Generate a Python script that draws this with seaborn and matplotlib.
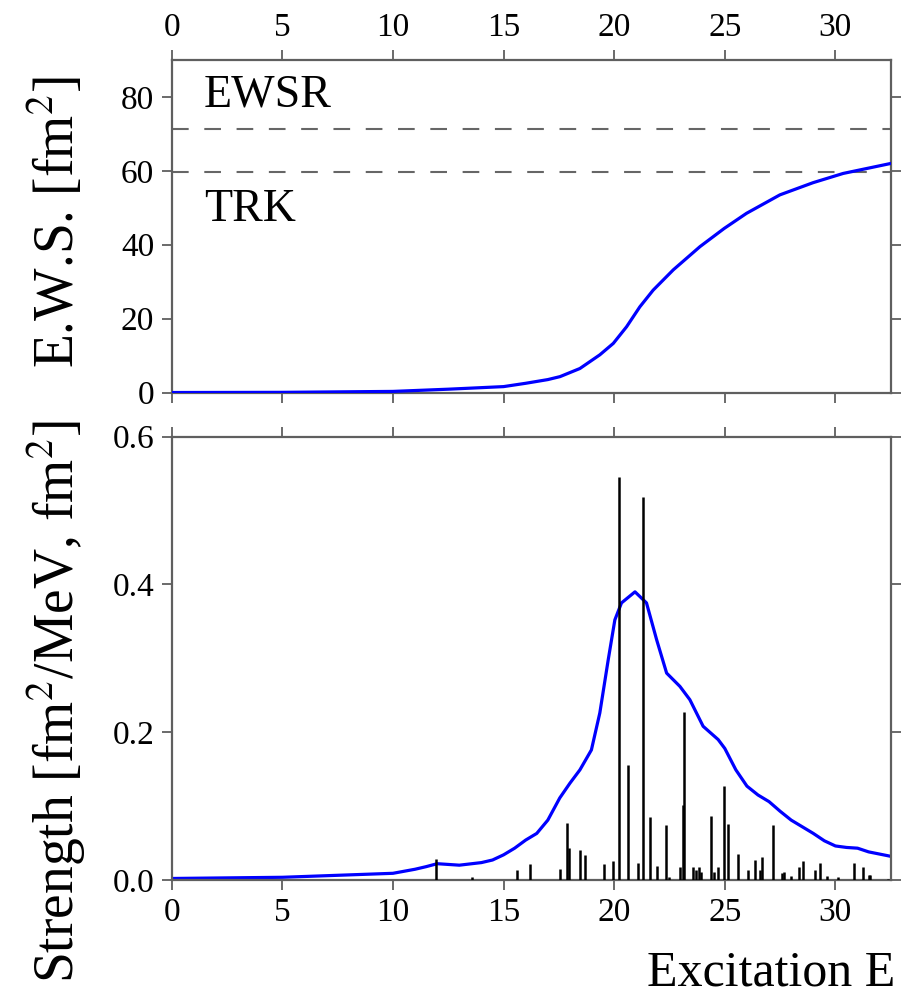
import numpy as np
import pandas as pd
import matplotlib
matplotlib.use("Agg")
import matplotlib.pyplot as plt
import seaborn as sns

# ---------------- data ----------------
# cumulative energy-weighted sum (top panel)
ews_x = [0, 5, 10, 12.5, 15, 16, 17, 17.55, 18.45, 19.35, 19.96, 20.56, 21.16, 21.76,
         22.67, 23.88, 24.97, 25.98, 27.49, 28.99, 30.35, 32.5]
ews_y = [0.0, 0.05, 0.3, 0.9, 1.6, 2.5, 3.5, 4.3, 6.5, 10.2, 13.3, 17.8, 23.2, 27.7,
         33.2, 39.5, 44.4, 48.5, 53.5, 56.8, 59.3, 62.0]
ewsr_value = 71.3
trk_value = 59.6

# smoothed strength function (bottom panel)
sm_x = [0, 5, 10, 11, 11.5, 12, 13, 14, 14.5, 15, 15.5, 16, 16.5, 17, 17.54, 18.0,
        18.45, 18.97, 19.35, 19.73, 20.03, 20.33, 20.94, 21.46, 21.92, 22.37, 22.97,
        23.42, 24.02, 24.7, 25.0, 25.5, 26, 26.5, 27, 27.5, 28, 28.5, 29, 29.5, 30,
        30.5, 31, 31.5, 32, 32.5]
sm_y = [0.002, 0.0036, 0.009, 0.0145, 0.018, 0.022, 0.02, 0.0235, 0.027, 0.034,
        0.043, 0.054, 0.063, 0.081, 0.111, 0.131, 0.149, 0.176, 0.226, 0.298, 0.352,
        0.375, 0.390, 0.375, 0.325, 0.280, 0.262, 0.244, 0.208, 0.190, 0.178, 0.149,
        0.127, 0.115, 0.106, 0.093, 0.081, 0.072, 0.063, 0.053, 0.046, 0.044, 0.043,
        0.038, 0.035, 0.032]

# discrete transition strengths (sticks)
st_x = [11.94, 13.56, 15.59, 16.18, 17.55, 17.85, 17.97, 18.46, 18.66, 19.55, 19.96,
        20.21, 20.64, 21.07, 21.32, 21.60, 21.92, 22.35, 22.49, 22.98, 23.11, 23.15,
        23.54, 23.69, 23.84, 23.92, 24.39, 24.52, 24.69, 24.97, 25.16, 25.61, 26.03,
        26.35, 26.60, 26.67, 27.19, 27.57, 27.68, 28.00, 28.36, 28.53, 29.06, 29.32,
        29.60, 30.13, 30.83, 31.24, 31.51, 31.58, 32.37]
st_y = [0.028, 0.004, 0.0135, 0.022, 0.0145, 0.077, 0.043, 0.040, 0.034, 0.022, 0.026,
        0.546, 0.156, 0.0235, 0.518, 0.085, 0.019, 0.0746, 0.0045, 0.018, 0.102, 0.227,
        0.017, 0.0135, 0.017, 0.011, 0.087, 0.011, 0.017, 0.127, 0.076, 0.035, 0.0135,
        0.027, 0.0135, 0.031, 0.0746, 0.010, 0.011, 0.005, 0.018, 0.025, 0.0135, 0.0235,
        0.005, 0.0035, 0.0226, 0.018, 0.007, 0.007, 0.001]

x_ticks = [0, 5, 10, 15, 20, 25, 30]
top_yticks = [0, 20, 40, 60, 80]
bot_yticks = [0.0, 0.2, 0.4, 0.6]

# ---------------- style ----------------
sns.set_style("ticks")
plt.rcParams["font.family"] = ["Liberation Serif", "DejaVu Serif"]
plt.rcParams["mathtext.fontset"] = "stix"
plt.rcParams["text.color"] = "black"
plt.rcParams["xtick.labelcolor"] = "black"
plt.rcParams["ytick.labelcolor"] = "black"

SPINE = "#5f5f5f"
BLUE = "#0000ff"

fig = plt.figure(figsize=(9.01, 9.97), dpi=100)
ax1 = fig.add_axes([0.1906, 0.6063, 0.798, 0.3335])
ax2 = fig.add_axes([0.1906, 0.1174, 0.798, 0.4446])

ews_df = pd.DataFrame({"E": ews_x, "S": ews_y})
sm_df = pd.DataFrame({"E": sm_x, "S": sm_y})

sns.lineplot(data=ews_df, x="E", y="S", ax=ax1, color=BLUE, lw=2.3, zorder=3)
ax1.axhline(ewsr_value, color="#666666", lw=1.5, ls=(0, (8, 7.5)), zorder=2)
ax1.axhline(trk_value, color="#666666", lw=1.5, ls=(0, (8, 7.5)), zorder=2)
ax1.text(1.45, 80.5, "EWSR", fontsize=33, va="center", ha="left", color="black")
ax1.text(1.45, 49.5, "TRK", fontsize=33, va="center", ha="left", color="black")

sns.lineplot(data=sm_df, x="E", y="S", ax=ax2, color=BLUE, lw=2.3, zorder=2)
ax2.vlines(st_x, 0, st_y, color="black", lw=1.8, zorder=3)

for ax in (ax1, ax2):
    ax.set_xlim(0, 32.5)
    ax.set_xticks(x_ticks)
    ax.set_xlabel("")
    ax.set_ylabel("")
    for s in ax.spines.values():
        s.set_visible(True)
        s.set_color(SPINE)
        s.set_linewidth(1.6)
    ax.tick_params(which="both", direction="out", length=7.5, width=1.3,
                   color=SPINE, labelcolor="black", labelsize=24, pad=5,
                   top=True, bottom=True, left=True, right=True,
                   labelright=False)

ax1.set_ylim(0, 90)
ax1.set_yticks(top_yticks)
ax1.tick_params(axis="x", labeltop=True, labelbottom=False)

ax2.set_ylim(0, 0.6)
ax2.set_yticks(bot_yticks)
ax2.set_yticklabels([f"{v:.1f}" for v in bot_yticks])
ax2.tick_params(axis="x", labeltop=False, labelbottom=True)

fig.text(74 / 901, 1 - 222 / 997, "E.W.S. [fm$^{2}$]", fontsize=40, rotation=90,
         rotation_mode="anchor", ha="center", va="baseline", color="black")
fig.text(74 / 901, 1 - 702 / 997, "Strength [fm$^{2}$/MeV, fm$^{2}$]", fontsize=40,
         rotation=90, rotation_mode="anchor", ha="center", va="baseline", color="black")
fig.text(647 / 901, 1 - 985 / 997, "Excitation E", fontsize=36, ha="left",
         va="baseline", color="black")

fig.savefig("out.png", dpi=100)
